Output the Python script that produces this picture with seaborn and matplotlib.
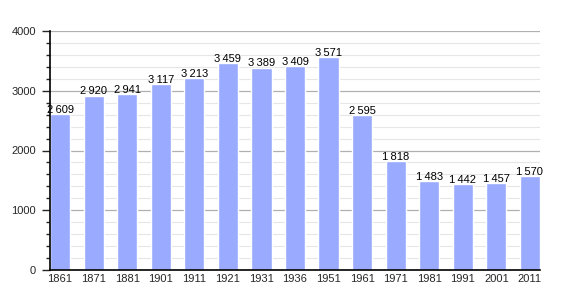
import matplotlib
matplotlib.use("Agg")
import matplotlib.pyplot as plt
import seaborn as sns
import pandas as pd
from matplotlib.ticker import MultipleLocator

years = ["1861", "1871", "1881", "1901", "1911", "1921", "1931", "1936",
         "1951", "1961", "1971", "1981", "1991", "2001", "2011"]
population = [2609, 2920, 2941, 3117, 3213, 3459, 3389, 3409,
              3571, 2595, 1818, 1483, 1442, 1457, 1570]

df = pd.DataFrame({"year": years, "pop": population})

sns.set_style("white")
plt.rcParams['font.family'] = ['Liberation Sans', 'DejaVu Sans']

fig = plt.figure(figsize=(5.7, 3.0), dpi=100)
ax = fig.add_axes([50/570, 30/300, 490/570, 239/300])

ax.yaxis.set_major_locator(MultipleLocator(1000))
ax.yaxis.set_minor_locator(MultipleLocator(200))
ax.grid(which="major", axis="y", color="#b0b0b0", linewidth=0.9, zorder=0)
ax.grid(which="minor", axis="y", color="#e6e6e6", linewidth=0.8, zorder=0)
ax.set_axisbelow(True)

sns.barplot(data=df, x="year", y="pop", color="#99aaff", saturation=1,
            width=0.6, ax=ax, zorder=2)

for i, v in enumerate(population):
    s = f"{v:,}".replace(",", "\u2009")
    ax.text(i, v - 15, s, ha="center", va="bottom", fontsize=8, color="black", zorder=3)

ax.set_xlim(-0.3, len(years) - 0.7)
ax.set_ylim(0, 4000)
ax.set_xlabel("")
ax.set_ylabel("")
for s in ["top", "right"]:
    ax.spines[s].set_visible(False)
ax.spines["left"].set_color("black")
ax.spines["bottom"].set_color("black")
ax.spines["left"].set_linewidth(1.2)
ax.spines["bottom"].set_linewidth(1.2)
ax.tick_params(axis="y", which="major", length=5.5, width=1, direction="out",
               labelsize=8, left=True, pad=4.5)
ax.tick_params(axis="y", which="minor", length=3, width=1, direction="out", left=True)
ax.tick_params(axis="x", length=0, labelsize=8, pad=3)

fig.savefig("out.png", dpi=100)
